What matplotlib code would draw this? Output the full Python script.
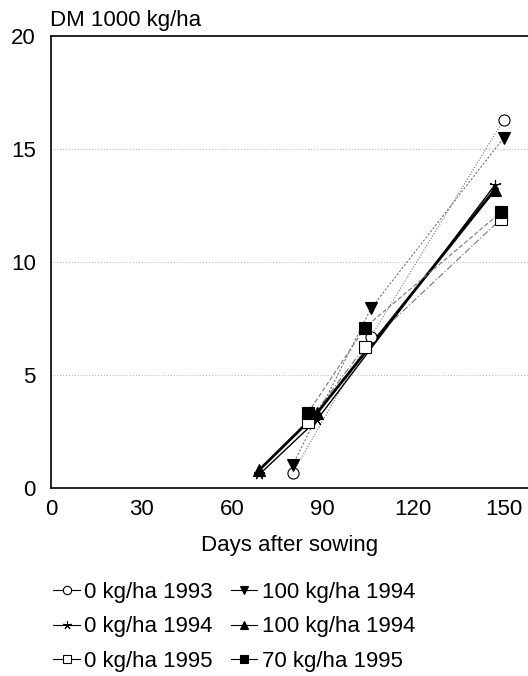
import matplotlib
matplotlib.use("Agg")
import matplotlib.pyplot as plt

plt.rcParams["font.family"] = ["Liberation Sans", "DejaVu Sans"]

# data (days after sowing, DM in 1000 kg/ha)
days_93 = [80, 106, 150]
dm_0_93 = [0.65, 6.7, 16.3]
dm_100_93 = [1.0, 7.95, 15.5]
days_94 = [69, 88, 147]
dm_0_94 = [0.6, 3.0, 13.4]
dm_100_94 = [0.8, 3.3, 13.2]
days_95 = [85, 104, 149]
dm_0_95 = [2.9, 6.25, 11.9]
dm_70_95 = [3.3, 7.1, 12.2]

labels = ["0 kg/ha 1993", "0 kg/ha 1994", "0 kg/ha 1995",
          "100 kg/ha 1994", "100 kg/ha 1994", "70 kg/ha 1995"]

fig = plt.figure(figsize=(5.28, 6.76), dpi=100)
ax = fig.add_axes([51 / 528, 1 - 488 / 676, 477 / 528, 452 / 676])

series = [
    (days_93, dm_0_93, "o", "white", "#777777", 0.8, (0, (1, 1.5))),
    (days_94, dm_0_94, (5, 2, 0), "black", "black", 1.0, "-"),
    (days_95, dm_0_95, "s", "white", "#777777", 0.8, (0, (6, 2, 1, 2))),
    (days_93, dm_100_93, "v", "black", "#777777", 0.8, (0, (2, 1.5))),
    (days_94, dm_100_94, "^", "black", "black", 2.0, "-"),
    (days_95, dm_70_95, "s", "black", "#777777", 0.8, (0, (4, 2))),
]

handles = []
for (x, y, mk, fc, lc, lw, ls), lab in zip(series, labels):
    ax.plot(x, y, color=lc, lw=lw, ls=ls, zorder=2)
    ax.plot(x, y, ls="none", marker=mk, ms=8, mfc=fc, mec="black", mew=0.8, zorder=3)
    h, = ax.plot([], [], color="black", lw=0.8, marker=mk, ms=6, mfc=fc, mec="black", mew=0.8)
    handles.append(h)

ax.set_xlim(0, 158)
ax.set_ylim(0, 20)
ax.set_xticks([0, 30, 60, 90, 120, 150])
ax.set_yticks([0, 5, 10, 15, 20])
ax.tick_params(axis="x", length=0, pad=8, labelsize=16)
ax.tick_params(axis="y", length=0, pad=11, labelsize=16)
ax.spines["right"].set_visible(False)
for sp in ["left", "bottom", "top"]:
    ax.spines[sp].set_linewidth(1.2)
ax.yaxis.grid(True, ls=(0, (1, 2.5)), color="#999999", lw=0.6)
ax.set_axisbelow(True)

ax.text(-0.002, 1.01, "DM 1000 kg/ha", transform=ax.transAxes, fontsize=16,
        ha="left", va="bottom")
ax.set_xlabel("Days after sowing", fontsize=16, labelpad=11)

fig.legend(handles, labels, ncol=2, loc="upper left", bbox_to_anchor=(0.08, 0.156),
           frameon=False, fontsize=16, handlelength=1.2, handletextpad=0.2,
           columnspacing=0.8, labelspacing=0.62, borderpad=0)

fig.savefig("out.png", dpi=100)
